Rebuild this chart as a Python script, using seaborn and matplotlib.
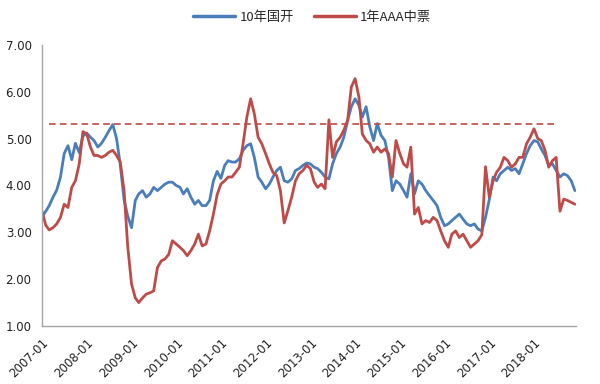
import pandas as pd
import matplotlib
matplotlib.use("Agg")
import matplotlib.pyplot as plt
import matplotlib.dates as mdates
import seaborn as sns

# monthly readings, 2007-01 .. 2018-12
months = pd.date_range("2007-01-01", periods=144, freq="MS")

cdb_10y = [
    3.32, 3.45, 3.57, 3.75, 3.90, 4.18, 4.68, 4.85, 4.55, 4.90, 4.70, 5.05,
    5.12, 5.03, 4.96, 4.82, 4.90, 5.03, 5.17, 5.30, 5.00, 4.45, 3.70, 3.35,
    3.10, 3.68, 3.82, 3.89, 3.75, 3.82, 3.96, 3.89, 3.96, 4.03, 4.07, 4.07,
    4.00, 3.96, 3.82, 3.93, 3.75, 3.60, 3.68, 3.57, 3.57, 3.68, 4.10, 4.30,
    4.15, 4.43, 4.53, 4.50, 4.50, 4.57, 4.75, 4.85, 4.89, 4.60, 4.18, 4.07,
    3.93, 4.03, 4.18, 4.32, 4.39, 4.10, 4.07, 4.14, 4.32, 4.36, 4.43, 4.48,
    4.46, 4.39, 4.36, 4.28, 4.18, 4.14, 4.46, 4.68, 4.82, 5.03, 5.39, 5.68,
    5.85, 5.71, 5.46, 5.68, 5.25, 4.96, 5.32, 5.07, 4.96, 4.60, 3.89, 4.10,
    4.03, 3.89, 3.75, 4.25, 3.82, 4.10, 4.03, 3.89, 3.78, 3.68, 3.57, 3.32,
    3.14, 3.18, 3.25, 3.32, 3.39, 3.28, 3.18, 3.14, 3.18, 3.07, 3.03, 3.32,
    3.70, 4.18, 4.10, 4.25, 4.32, 4.39, 4.32, 4.36, 4.25, 4.46, 4.68, 4.85,
    4.96, 4.93, 4.78, 4.64, 4.43, 4.46, 4.32, 4.18, 4.25, 4.21, 4.10, 3.89,
]

mtn_1y_aaa = [
    3.45, 3.15, 3.05, 3.10, 3.18, 3.32, 3.60, 3.53, 3.96, 4.10, 4.46, 5.15,
    5.10, 4.82, 4.64, 4.64, 4.60, 4.64, 4.71, 4.75, 4.64, 4.50, 3.90, 2.70,
    1.90, 1.60, 1.50, 1.60, 1.68, 1.71, 1.75, 2.25, 2.39, 2.43, 2.53, 2.82,
    2.75, 2.68, 2.61, 2.50, 2.61, 2.75, 2.96, 2.71, 2.75, 3.03, 3.39, 3.80,
    4.03, 4.10, 4.18, 4.18, 4.28, 4.39, 4.89, 5.46, 5.85, 5.53, 5.03, 4.89,
    4.68, 4.46, 4.28, 4.21, 3.89, 3.20, 3.46, 3.75, 4.10, 4.25, 4.32, 4.43,
    4.36, 4.07, 3.96, 4.03, 3.93, 5.40, 4.60, 4.93, 5.03, 5.18, 5.39, 6.10,
    6.28, 5.89, 5.10, 4.96, 4.89, 4.71, 4.82, 4.71, 4.78, 4.68, 4.18, 4.96,
    4.68, 4.46, 4.39, 4.82, 3.39, 3.53, 3.18, 3.25, 3.21, 3.32, 3.25, 3.03,
    2.82, 2.68, 2.96, 3.03, 2.89, 2.96, 2.82, 2.68, 2.75, 2.82, 2.95, 4.40,
    3.75, 4.10, 4.28, 4.39, 4.60, 4.53, 4.39, 4.46, 4.60, 4.60, 4.89, 5.03,
    5.21, 5.00, 4.96, 4.75, 4.39, 4.53, 4.60, 3.45, 3.71, 3.68, 3.64, 3.60,
]

series_names = ["10年国开", "1年AAA中票"]
ref_level = 5.32
ref_start = "2007-03-01"
ref_end = "2018-07-15"

df = pd.concat([
    pd.DataFrame({"date": months, "value": cdb_10y, "series": series_names[0]}),
    pd.DataFrame({"date": months, "value": mtn_1y_aaa, "series": series_names[1]}),
])

sns.set_style("white")
plt.rcParams["font.family"] = ["Noto Sans CJK SC", "DejaVu Sans"]

blue = "#4A7EBB"
red = "#BE4B48"
axis_grey = "#A6A6A6"

fig = plt.figure(figsize=(6, 3.84), dpi=100)
ax = fig.add_axes([0.07, 0.151, 0.89, 0.732])

sns.lineplot(data=df, x="date", y="value", hue="series", palette=[blue, red],
             linewidth=2.0, ax=ax, legend=False)
ax.plot([pd.Timestamp(ref_start), pd.Timestamp(ref_end)], [ref_level, ref_level],
        color=red, linestyle=(0, (4, 2.5)), linewidth=1.2)

ax.set_ylim(1, 7)
ax.set_yticks([1, 2, 3, 4, 5, 6, 7])
ax.yaxis.set_major_formatter(matplotlib.ticker.FormatStrFormatter("%.2f"))
ax.set_xlim(pd.Timestamp("2007-01-01"), pd.Timestamp("2018-12-10"))
ax.xaxis.set_major_locator(mdates.YearLocator())
ax.xaxis.set_major_formatter(mdates.DateFormatter("%Y-%m"))
ax.set_xlabel("")
ax.set_ylabel("")

for s in ["top", "right"]:
    ax.spines[s].set_visible(False)
for s in ["left", "bottom"]:
    ax.spines[s].set_color(axis_grey)
    ax.spines[s].set_linewidth(1.0)
ax.tick_params(axis="both", direction="out", length=4, width=1, color=axis_grey,
               labelsize=8.5, labelcolor="#222222")
for lab in ax.get_yticklabels():
    lab.set_family(["DejaVu Sans"])
for lab in ax.get_xticklabels():
    lab.set_rotation(45)
    lab.set_ha("right")
    lab.set_rotation_mode("anchor")
    lab.set_family(["DejaVu Sans"])

handles = [matplotlib.lines.Line2D([], [], color=blue, linewidth=2.5),
           matplotlib.lines.Line2D([], [], color=red, linewidth=2.5)]
fig.legend(handles, series_names, loc="center", bbox_to_anchor=(0.52, 0.955),
           ncol=2, frameon=False, fontsize=9.5, handlelength=3.2,
           handletextpad=0.3, columnspacing=1.5)

fig.savefig("out.png", dpi=100)
